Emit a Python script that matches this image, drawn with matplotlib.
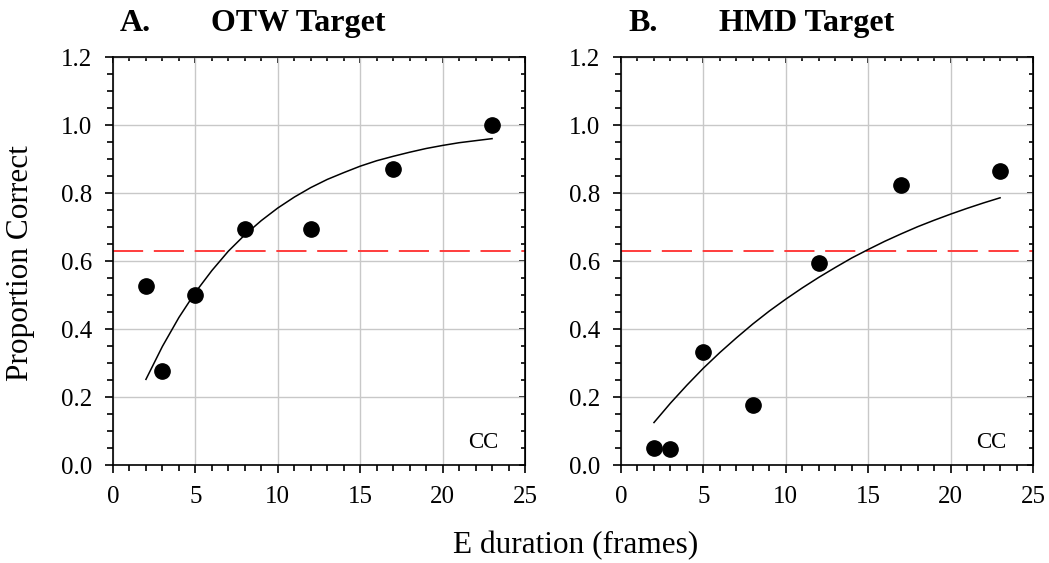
'''
Proportion correct vs E duration, OTW and HMD targets
'''
import numpy as np
import matplotlib
matplotlib.use('Agg')
from matplotlib import pyplot as plt
from matplotlib.ticker import MultipleLocator

plt.rcParams['font.family'] = ['Liberation Serif', 'DejaVu Serif']

# observed points
durations = [2, 3, 5, 8, 12, 17, 23]
otw_correct = [0.528, 0.278, 0.500, 0.694, 0.694, 0.870, 1.000]
hmd_correct = [0.050, 0.048, 0.333, 0.178, 0.593, 0.823, 0.865]

# fitted curves
fit_x = [2, 3, 4, 5, 6, 7, 8, 9, 10, 11, 12, 13, 14, 15, 16, 17, 18, 19, 20, 21, 22, 23]
otw_fit = [0.252, 0.349, 0.434, 0.508, 0.572, 0.629, 0.677, 0.719, 0.756, 0.788, 0.816,
           0.840, 0.860, 0.879, 0.895, 0.908, 0.920, 0.931, 0.940, 0.948, 0.954, 0.960]
hmd_fit = [0.125, 0.182, 0.235, 0.285, 0.331, 0.374, 0.415, 0.453, 0.488, 0.521, 0.552,
           0.581, 0.609, 0.634, 0.658, 0.680, 0.701, 0.720, 0.738, 0.755, 0.771, 0.786]

threshold = 0.63
panels = [('A.', 'OTW Target', otw_correct, otw_fit),
          ('B.', 'HMD Target', hmd_correct, hmd_fit)]
lefts = [0.1077, 0.592]
W, H = 1049., 563.

fig = plt.figure(figsize=(10.49, 5.63), dpi=100)
for left, (letter, title, ydata, yfit) in zip(lefts, panels):
    ax = fig.add_axes([left, 0.174, 0.3928, 0.7247])
    ax.grid(True, color='#c8c8c8', lw=1.0)
    ax.set_axisbelow(True)
    ax.axhline(threshold, color='#ff3c3c', lw=1.4, dashes=(15.5, 5.5))
    ax.plot(fit_x, yfit, color='black', lw=1.1)
    ax.plot(durations, ydata, 'o', color='black', ms=11, clip_on=False)
    ax.set_xlim(0, 25)
    ax.set_ylim(0, 1.2)
    ax.xaxis.set_major_locator(MultipleLocator(5))
    ax.xaxis.set_minor_locator(MultipleLocator(1))
    ax.yaxis.set_major_locator(MultipleLocator(0.2))
    ax.yaxis.set_minor_locator(MultipleLocator(0.05))
    ax.yaxis.set_major_formatter(lambda v, p: '{:.1f}'.format(v))
    ax.tick_params(which='both', direction='out', labelsize=18, width=1.2)
    ax.tick_params(axis='y', pad=9)
    ax.tick_params(axis='x', pad=9)
    ax.tick_params(which='major', length=6)
    ax.tick_params(which='minor', length=4)
    for s in ax.spines.values():
        s.set_linewidth(1.2)
    # top/right ticks point inward
    top = ax.secondary_xaxis('top')
    top.xaxis.set_major_locator(MultipleLocator(5))
    top.xaxis.set_minor_locator(MultipleLocator(1))
    top.tick_params(which='both', direction='in', labeltop=False, width=1.2)
    top.tick_params(which='major', length=4)
    top.tick_params(which='minor', length=3)
    right = ax.secondary_yaxis('right')
    right.yaxis.set_major_locator(MultipleLocator(0.2))
    right.yaxis.set_minor_locator(MultipleLocator(0.05))
    right.tick_params(which='both', direction='in', labelright=False, width=1.2)
    right.tick_params(which='major', length=4)
    right.tick_params(which='minor', length=3)
    ax.text(21.55, 0.05, 'CC', fontsize=16.5, va='baseline')
    x0 = left * W
    fig.text((x0 + 7) / W, 1 - 31 / H, letter, fontsize=23, fontweight='bold', va='baseline')
    fig.text((x0 + 98) / W, 1 - 31 / H, title, fontsize=23, fontweight='bold', va='baseline')

fig.text(21 / W, 1 - 263 / H, 'Proportion Correct', fontsize=22.5, rotation=90,
         ha='center', va='center')
fig.text(576 / W, 1 - 553 / H, 'E duration (frames)', fontsize=22.5, ha='center',
         va='baseline')
plt.savefig('out.png', dpi=100)
